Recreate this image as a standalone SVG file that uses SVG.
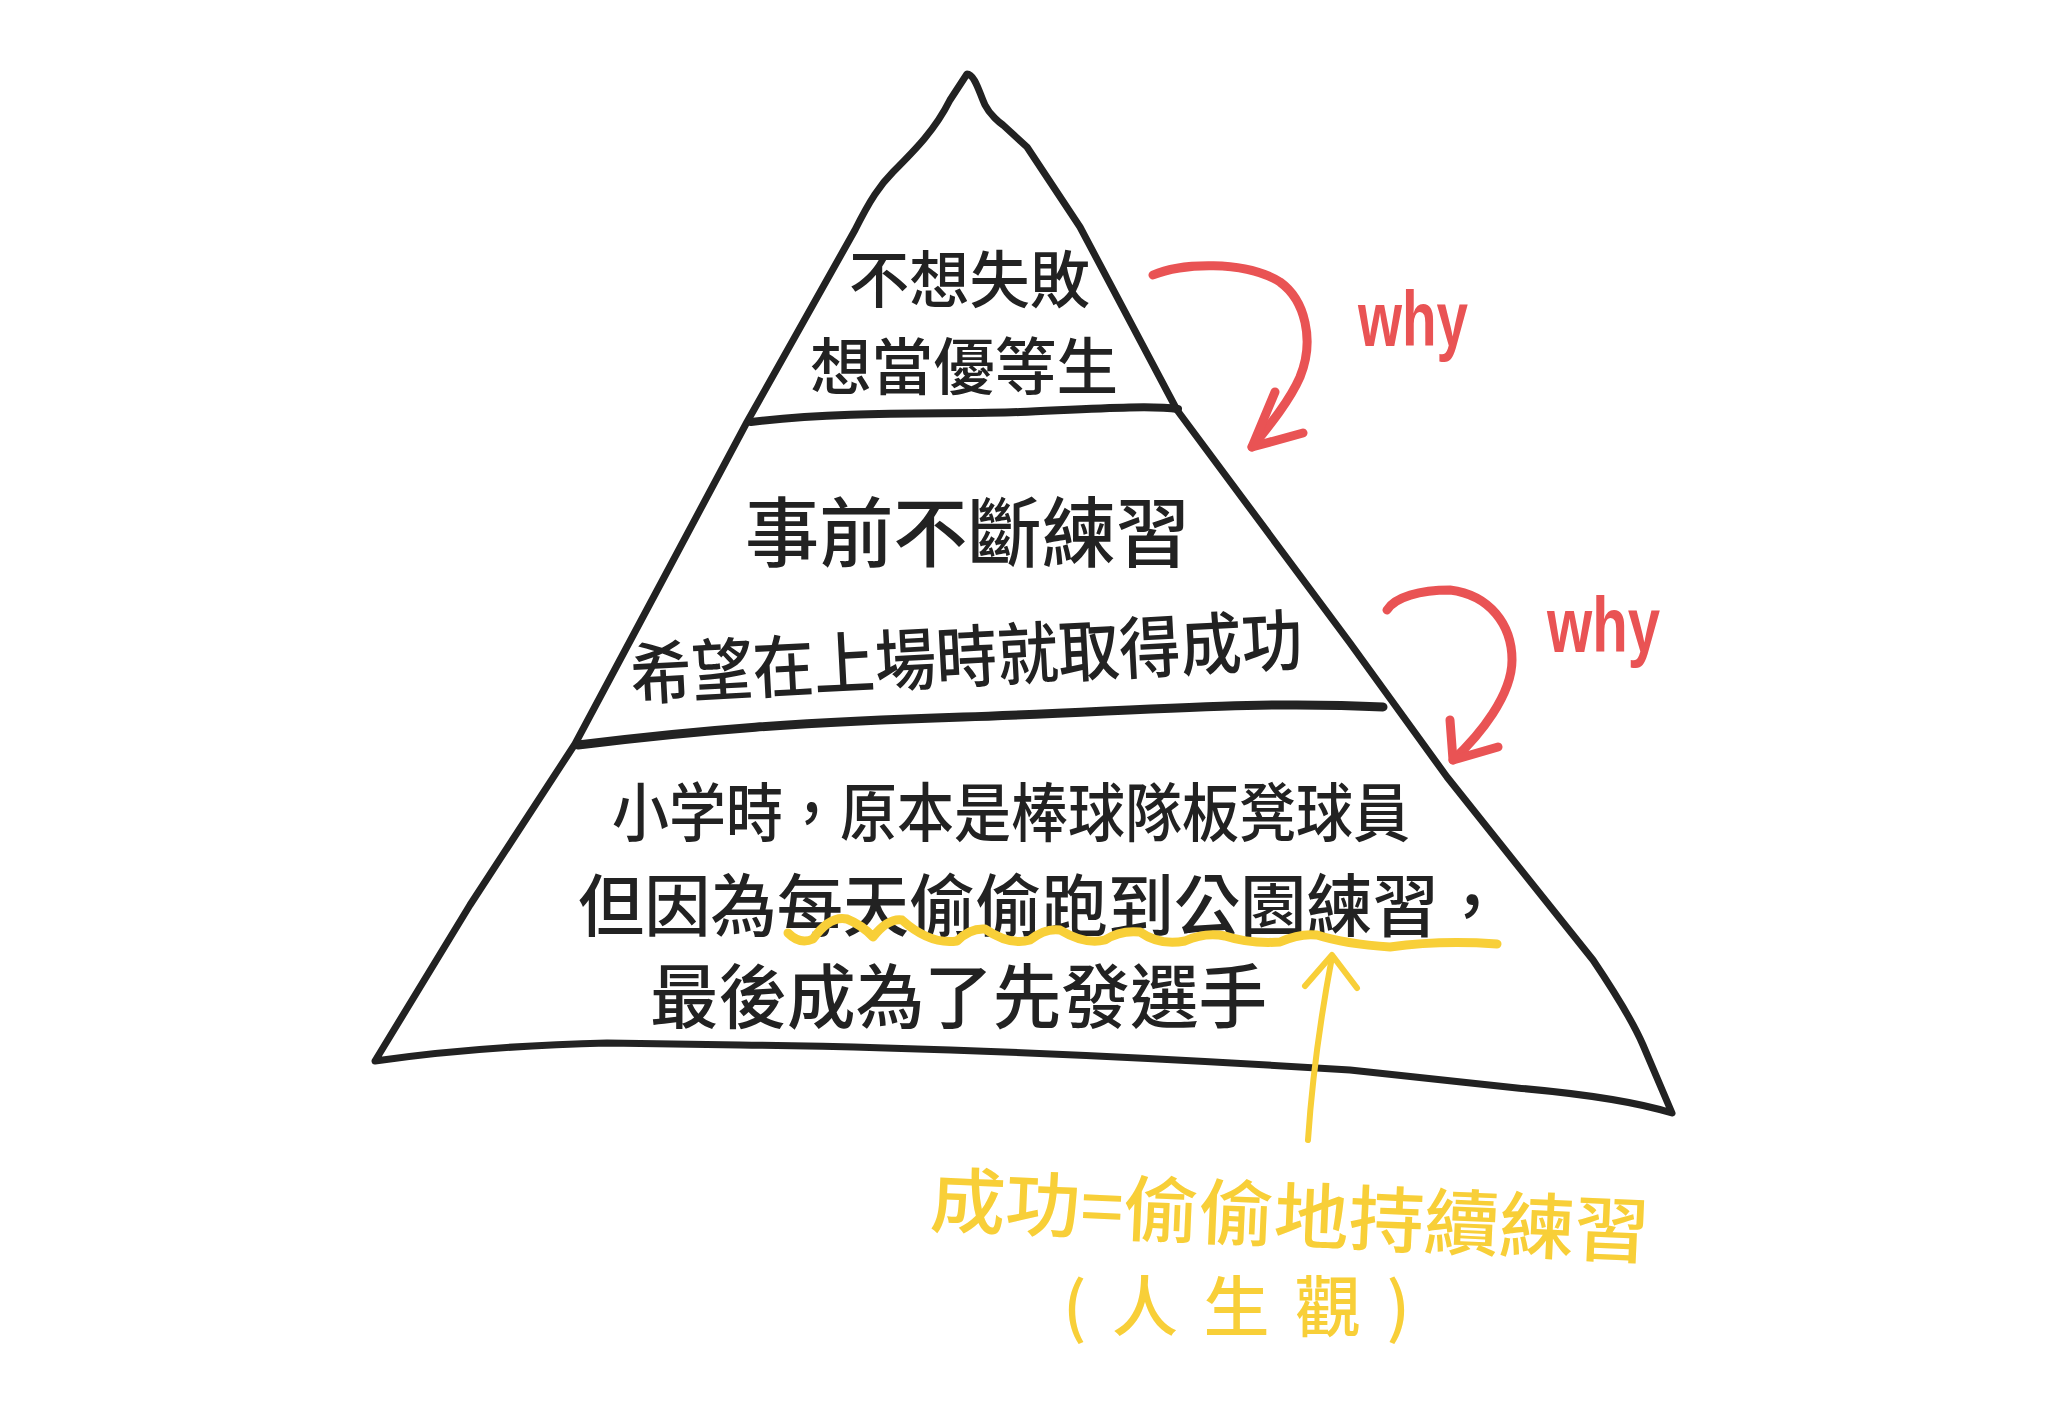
<svg xmlns="http://www.w3.org/2000/svg" width="2048" height="1423" viewBox="0 0 2048 1423">
<style>
.ink{fill:none;stroke:#222;stroke-linecap:round;stroke-linejoin:round}
.t{font-family:"Noto Sans CJK TC","Noto Sans CJK SC",sans-serif;font-weight:500;fill:#222}
.y{font-family:"Noto Sans CJK TC","Noto Sans CJK SC",sans-serif;font-weight:500;fill:#f8cf38}
.red{fill:none;stroke:#e95354;stroke-width:9;stroke-linecap:round;stroke-linejoin:round}
.yel{fill:none;stroke:#f8cf38;stroke-linecap:round;stroke-linejoin:round}
.why{font-family:"Liberation Sans",Arial,sans-serif;font-weight:700;fill:#e95354;font-size:78px}
</style>
<rect width="2048" height="1423" fill="#ffffff"/>
<g id="pyramid">
<path class="ink" stroke-width="7" d="M375,1061 L470,905 L575,744 L660,585 L747,422 L855,230 C870,200 880,185 893,172 C915,150 935,130 950,100 L967,74 C975,74 980,95 985,105 C990,115 1000,123 1003,125 L1027,147 L1080,227 L1177,410 L1350,643 L1447,777 L1593,960 Q1630,1015 1643,1045 L1672,1113 Q1620,1097 1517,1088 L1350,1070 Q1000,1048 740,1045 L607,1043 Q480,1046 375,1061 Z"/>
</g>
<g id="level-top">
<path class="ink" stroke-width="8" d="M751,422 C850,410 950,415 1020,412 S1150,405 1178,409"/>
<text class="t" font-size="62" x="849" y="303" textLength="241" lengthAdjust="spacingAndGlyphs">不想失敗</text>
<text class="t" font-size="62" x="810" y="390" textLength="308" lengthAdjust="spacingAndGlyphs">想當優等生</text>
</g>
<g id="level-middle">
<path class="ink" stroke-width="9" d="M578,745 C700,730 800,722 963,717 S1250,700 1383,707"/>
<text class="t" font-size="76" x="745" y="561" textLength="445" lengthAdjust="spacingAndGlyphs">事前不斷練習</text>
<text class="t" font-size="68" x="630" y="682" textLength="673" lengthAdjust="spacingAndGlyphs" transform="rotate(-3 966 656)">希望在上場時就取得成功</text>
</g>
<g id="level-bottom">
<text class="t" font-size="64" x="612" y="836" textLength="798" lengthAdjust="spacingAndGlyphs">小学時，原本是棒球隊板凳球員</text>
<text class="t" font-size="68" x="578" y="931" textLength="927" lengthAdjust="spacingAndGlyphs">但因為每天偷偷跑到公園練習，</text>
<text class="t" font-size="70" x="650" y="1023" textLength="617" lengthAdjust="spacingAndGlyphs">最後成為了先發選手</text>
<path class="yel" stroke-width="9" d="M788,933 Q800,945 813,939 Q830,915 847,919 Q862,925 873,937 Q888,918 902,920 Q930,945 957,941 Q970,928 985,929 Q1010,946 1030,940 Q1045,928 1060,930 Q1085,945 1105,940 Q1120,930 1140,932 Q1160,946 1185,941 Q1205,932 1225,936 Q1250,944 1280,942 Q1300,933 1317,935 Q1345,944 1390,947 Q1440,940 1497,944"/>
</g>
<g id="note-success">
<text class="y" font-size="72" x="1290" y="1242" text-anchor="middle" textLength="720" lengthAdjust="spacingAndGlyphs" transform="rotate(2.5 1290 1215)">成功=偷偷地持續練習</text>
<text class="y" font-size="66" x="1063" y="1331" textLength="347" lengthAdjust="spacing">(人生觀)</text>
</g>
<g id="connectors">
<path class="red" d="M1153,275 C1180,263 1245,260 1280,282 C1305,300 1315,340 1300,377 C1290,400 1270,425 1252,447"/>
<path class="red" d="M1275,392 L1252,447 L1303,433"/>
<text class="why" x="1358" y="346" textLength="110" lengthAdjust="spacingAndGlyphs">why</text>
<path class="red" d="M1387,610 C1395,597 1420,590 1450,590 C1490,595 1512,625 1512,660 C1512,695 1480,735 1453,760"/>
<path class="red" d="M1450,720 L1453,760 L1498,747"/>
<text class="why" x="1547" y="652" textLength="113" lengthAdjust="spacingAndGlyphs">why</text>
<path class="yel" stroke-width="6" d="M1308,1140 C1312,1080 1322,1010 1332,957"/>
<path class="yel" stroke-width="6" d="M1305,986 L1332,955 L1357,988"/>
</g>
</svg>
